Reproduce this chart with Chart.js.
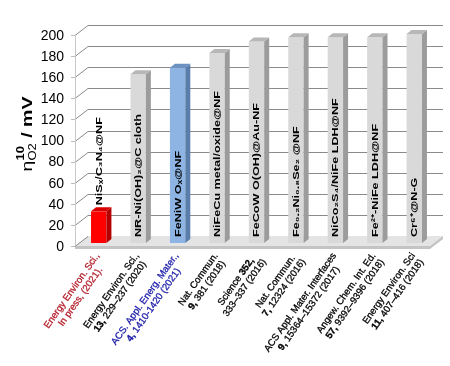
<!DOCTYPE html>
<html>
<head>
<meta charset="utf-8">
<script src="https://cdn.jsdelivr.net/npm/chart.js@4.4.1/dist/chart.umd.min.js"></script>
<style>
  html, body { margin: 0; padding: 0; background: #fff; }
  #wrap { width: 450px; height: 366px; }
</style>
</head>
<body>
<div id="wrap"><canvas id="chart" width="450" height="366"></canvas></div>
<script>
const materials = [
  'NiSₓ/C₃N₄@NF',
  'NR-Ni(OH)₂@C cloth',
  'FeNiW Oₓ@NF',
  'NiFeCu metal/oxide@NF',
  'FeCoW O(OH)@Au-NF',
  'Fe₀.₂Ni₀.₈Se₂ @NF',
  'NiCo₂S₄/NiFe LDH@NF',
  'Fe²⁺-NiFe LDH@NF',
  'Cr⁶⁺@N-G'
];
const overpotential = [30, 160, 166, 180, 191, 195, 195, 195, 198];
// bold parts wrapped in *...*
const journals = [
  'Energy Environ. Sci.,',
  'Energy Environ. Sci.,',
  'ACS. Appl. Energ. Mater.,',
  'Nat. Commun.',
  'Science *352,*',
  'Nat. Commun.',
  'ACS Appl. Mater. Interfaces',
  'Angew. Chem. Int. Ed.',
  'Energy Environ. Sci'
];
const citations = [
  'In press, (2021).',
  '*13,* 229–237 (2020)',
  '*4,* 1410-1420 (2021)',
  '*9,* 381 (2018)',
  '333–337 (2016)',
  '*7,* 12324 (2016)',
  '*9,* 15364–15372 (2017)',
  '*57,* 9392–9396 (2018)',
  '*11,* 407–416 (2018)'
];
const yTicks = [0, 20, 40, 60, 80, 100, 120, 140, 160, 180, 200];

const FONT = '"Liberation Sans", Arial, sans-serif';
const WALL_DX = 13, WALL_DY = 10;   // depth of back wall
const BAR_DX = 5, BAR_DY = 4;       // depth of each bar
const SHIFT_X = 4, SHIFT_Y = 3;     // bars stand a little behind the front edge
const STRETCH = 1.4;                // bar names look stretched along their length
const LABEL_ANGLE = 55 * Math.PI / 180;

function faces(i) {
  if (i === 0) return ['#ff0000', '#b50000', '#d80000'];
  if (i === 2) return ['#8db4e2', '#5a7eac', '#6c92c4'];
  return ['#d9d9d9', '#9c9c9c', '#b7b7b7'];
}
function refColor(i) {
  if (i === 0) return '#b3212b';
  if (i === 2) return '#1c1ca8';
  return '#000000';
}

function segments(text) {
  return text.split('*').map((t, k) => ({ t, bold: k % 2 === 1 })).filter(s => s.t);
}
function richWidth(ctx, text, size) {
  let w = 0;
  segments(text).forEach(s => {
    ctx.font = (s.bold ? 'bold ' : '') + size + 'px ' + FONT;
    w += ctx.measureText(s.t).width;
  });
  return w;
}
function drawRich(ctx, text, x, y, size) {
  segments(text).forEach(s => {
    ctx.font = (s.bold ? 'bold ' : '') + size + 'px ' + FONT;
    ctx.fillText(s.t, x, y);
    ctx.strokeText(s.t, x, y);
    x += ctx.measureText(s.t).width;
  });
}

const frame3d = {
  id: 'frame3d',
  beforeDatasetsDraw(chart) {
    const { ctx, chartArea: a, scales: { x, y } } = chart;
    ctx.save();
    // floor
    ctx.fillStyle = '#e4e4e4';
    ctx.beginPath();
    ctx.moveTo(a.left, a.bottom);
    ctx.lineTo(a.right, a.bottom);
    ctx.lineTo(a.right + WALL_DX, a.bottom - WALL_DY);
    ctx.lineTo(a.left + WALL_DX, a.bottom - WALL_DY);
    ctx.closePath();
    ctx.fill();
    ctx.fillStyle = '#c4c4c4';
    ctx.beginPath();
    ctx.moveTo(a.left, a.bottom);
    ctx.lineTo(a.right, a.bottom);
    ctx.lineTo(a.right + WALL_DX, a.bottom - WALL_DY);
    ctx.lineTo(a.right + WALL_DX, a.bottom - WALL_DY + 3);
    ctx.lineTo(a.right, a.bottom + 3);
    ctx.lineTo(a.left, a.bottom + 3);
    ctx.closePath();
    ctx.fill();

    // grid lines on side wall and back wall
    ctx.lineWidth = 1;
    yTicks.forEach(v => {
      const py = Math.round(y.getPixelForValue(v)) + 0.5;
      ctx.strokeStyle = '#8a8a8a';
      ctx.beginPath();
      ctx.moveTo(a.left, py);
      ctx.lineTo(a.left + WALL_DX, py - WALL_DY);
      if (v > 0) ctx.lineTo(a.right + WALL_DX, py - WALL_DY);
      ctx.stroke();
      ctx.strokeStyle = '#bdbdbd';
      ctx.beginPath();
      ctx.moveTo(a.left - 4, py);
      ctx.lineTo(a.left, py);
      ctx.stroke();
    });
    ctx.strokeStyle = '#c8c8c8';
    ctx.beginPath();
    ctx.moveTo(a.left + 0.5, y.getPixelForValue(200));
    ctx.lineTo(a.left + 0.5, a.bottom);
    ctx.stroke();

    // y tick labels
    ctx.fillStyle = '#000';
    ctx.font = '14px ' + FONT;
    ctx.textAlign = 'right';
    ctx.textBaseline = 'middle';
    yTicks.forEach(v => ctx.fillText(String(v), a.left - 11, y.getPixelForValue(v) + 1));

    // y title: eta_O2^10 / mV
    ctx.save();
    ctx.translate(27, 134);
    ctx.scale(1, 1.3);
    ctx.rotate(-Math.PI / 2);
    ctx.textAlign = 'left';
    ctx.textBaseline = 'alphabetic';
    const parts = [
      { t: 'η', f: '15px ' + FONT, dy: 0 },
      { t: 'O2', f: '10px ' + FONT, dy: 4 },
      { t: '10', f: 'bold 10px ' + FONT, dy: -8, back: true },
      { t: ' / mV', f: 'bold 15px ' + FONT, dy: 0 }
    ];
    let total = 0;
    parts.forEach(p => { ctx.font = p.f; p.w = ctx.measureText(p.t).width; if (!p.back) total += p.w; });
    let cx = -total / 2;
    let lastStart = cx;
    parts.forEach(p => {
      ctx.font = p.f;
      if (p.back) {
        ctx.fillText(p.t, lastStart, 5 + p.dy);
        cx = Math.max(cx, lastStart + p.w);
      } else {
        lastStart = cx;
        ctx.fillText(p.t, cx, 5 + p.dy);
        cx += p.w;
      }
    });
    ctx.restore();

    // category labels (references)
    const size = 9.6, lh = 10.5;
    materials.forEach((m, i) => {
      const ax = x.getPixelForValue(i) + 3;
      const ay = a.bottom + 8;
      const lines = [journals[i], citations[i]];
      const widths = lines.map(l => richWidth(ctx, l, size));
      const maxW = Math.max(...widths);
      ctx.save();
      ctx.translate(ax, ay);
      ctx.rotate(-LABEL_ANGLE);
      ctx.fillStyle = refColor(i);
      ctx.strokeStyle = refColor(i);
      ctx.lineWidth = 0.3;
      ctx.textAlign = 'left';
      ctx.textBaseline = 'middle';
      lines.forEach((l, j) => drawRich(ctx, l, -maxW / 2 - widths[j] / 2, j * lh, size));
      ctx.restore();
    });
    ctx.restore();
  },
  beforeDatasetDraw(chart) {
    chart.ctx.save();
    chart.ctx.translate(SHIFT_X, -SHIFT_Y);
  },
  afterDatasetDraw(chart) {
    const ctx = chart.ctx;
    const bars = chart.getDatasetMeta(0).data;
    bars.forEach((b, i) => {
      const [, side, top] = faces(i);
      const l = b.x - b.width / 2, r = b.x + b.width / 2;
      ctx.fillStyle = side;
      ctx.beginPath();
      ctx.moveTo(r, b.y);
      ctx.lineTo(r + BAR_DX, b.y - BAR_DY);
      ctx.lineTo(r + BAR_DX, b.base - BAR_DY);
      ctx.lineTo(r, b.base);
      ctx.closePath();
      ctx.fill();
      ctx.fillStyle = top;
      ctx.beginPath();
      ctx.moveTo(l, b.y);
      ctx.lineTo(l + BAR_DX, b.y - BAR_DY);
      ctx.lineTo(r + BAR_DX, b.y - BAR_DY);
      ctx.lineTo(r, b.y);
      ctx.closePath();
      ctx.fill();

      // material name, written upwards
      ctx.save();
      const y0 = i === 0 ? b.y - 6 : b.base - 6;
      ctx.translate(b.x + 0.5, y0);
      ctx.scale(1, STRETCH);
      ctx.rotate(-Math.PI / 2);
      ctx.fillStyle = '#000';
      ctx.font = 'bold 9px ' + FONT;
      ctx.textAlign = 'left';
      ctx.textBaseline = 'middle';
      ctx.fillText(materials[i], 0, 0);
      ctx.restore();
    });
    ctx.restore();
  }
};

new Chart(document.getElementById('chart'), {
  type: 'bar',
  data: {
    labels: materials,
    datasets: [{
      data: overpotential,
      backgroundColor: overpotential.map((v, i) => faces(i)[0]),
      borderWidth: 0,
      barPercentage: 0.39,
      categoryPercentage: 1,
      clip: false
    }]
  },
  options: {
    responsive: false,
    animation: false,
    layout: { padding: { left: 75, right: 20, top: 35, bottom: 120 } },
    plugins: { legend: { display: false }, tooltip: { enabled: false } },
    scales: {
      x: { display: false },
      y: { display: false, min: 0, max: 200 }
    }
  },
  plugins: [frame3d]
});
</script>
</body>
</html>
